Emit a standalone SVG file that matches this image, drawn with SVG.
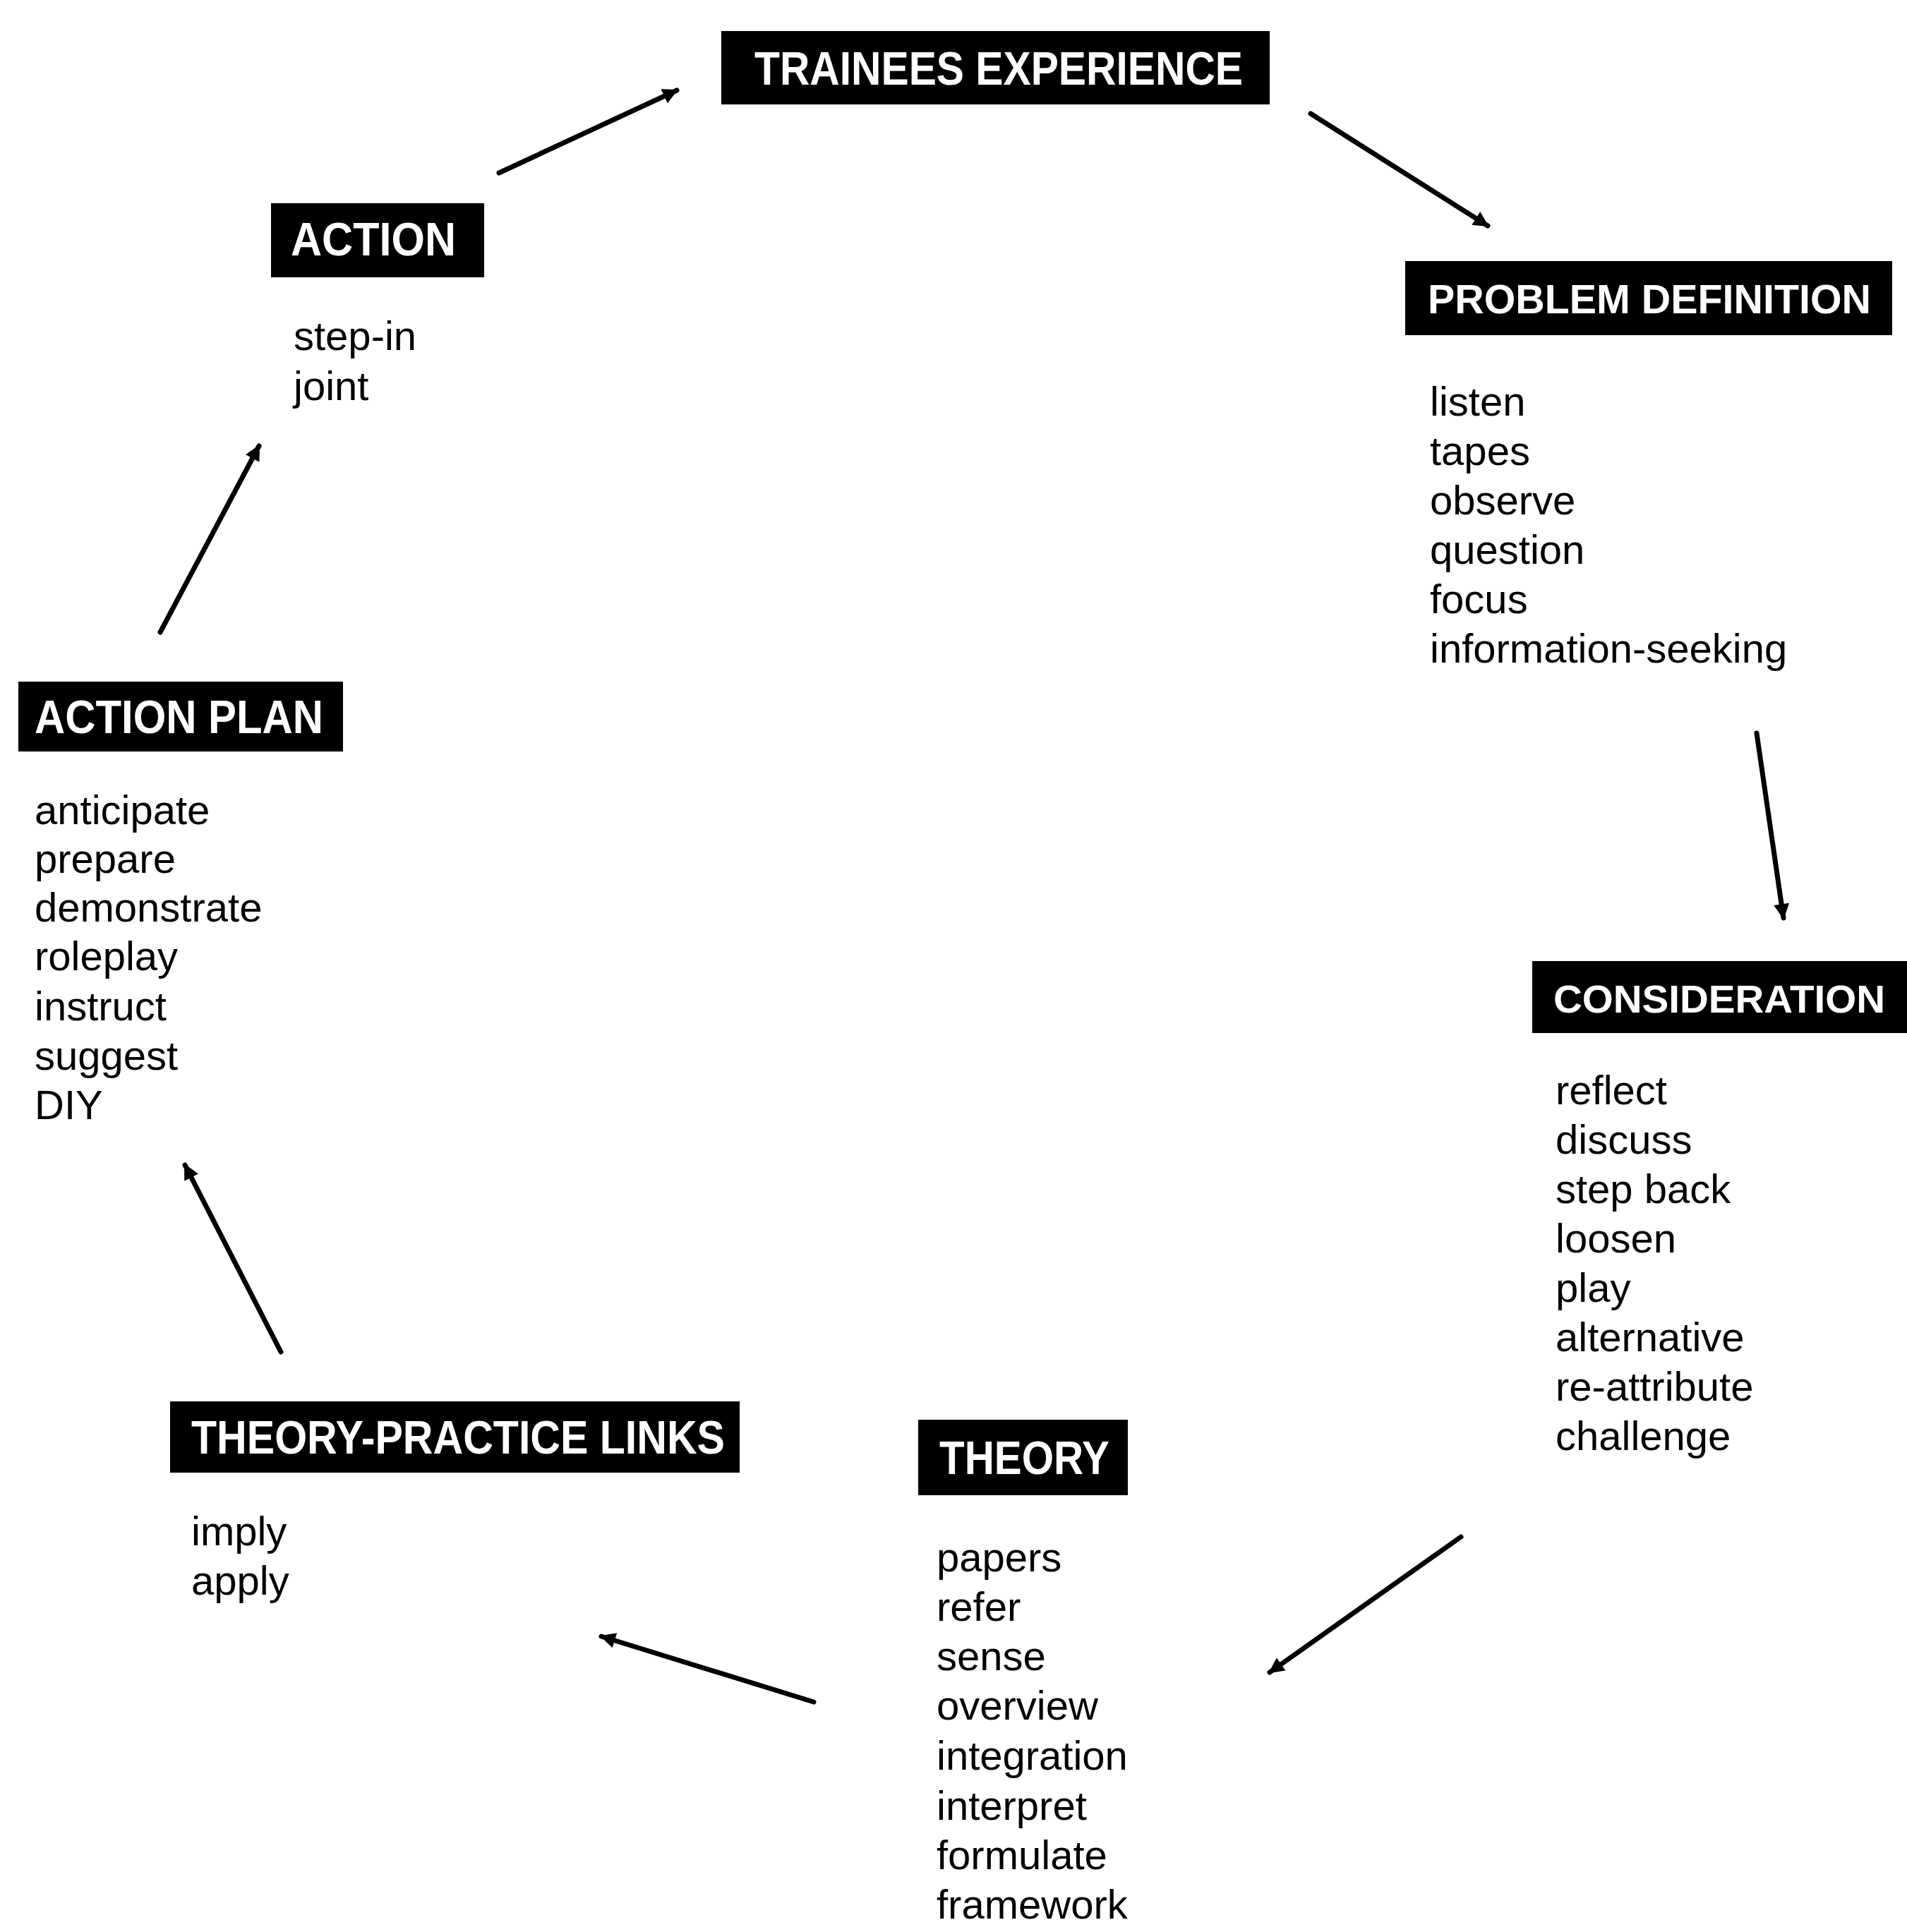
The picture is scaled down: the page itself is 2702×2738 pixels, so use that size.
<svg xmlns="http://www.w3.org/2000/svg" width="2702" height="2738" viewBox="0 0 2702 2738">
<style>
.box{fill:#000}
.hdr{fill:#fff;font-family:"Liberation Sans",Arial,sans-serif;font-weight:bold;font-size:66px}
.item{fill:#000;font-family:"Liberation Sans",Arial,sans-serif;font-size:58px}
.conn{stroke:#000;stroke-width:7;fill:none;stroke-linecap:round}
</style>
<defs>
<marker id="ah" viewBox="0 0 10 10" refX="9" refY="5" markerWidth="28" markerHeight="22" markerUnits="userSpaceOnUse" orient="auto">
<path d="M0,0 L10,5 L0,10 z" fill="#000"/>
</marker>
</defs>
<rect width="2702" height="2738" fill="#fff"/>
<g id="connectors">
<line class="conn" x1="1857" y1="161" x2="2108" y2="320" marker-end="url(#ah)"/>
<line class="conn" x1="2489" y1="1039" x2="2527" y2="1301" marker-end="url(#ah)"/>
<line class="conn" x1="2070" y1="2178" x2="1799" y2="2370" marker-end="url(#ah)"/>
<line class="conn" x1="1153" y1="2412" x2="852" y2="2319" marker-end="url(#ah)"/>
<line class="conn" x1="398" y1="1916" x2="262" y2="1651" marker-end="url(#ah)"/>
<line class="conn" x1="227" y1="896" x2="367" y2="632" marker-end="url(#ah)"/>
<line class="conn" x1="707" y1="245" x2="959" y2="128" marker-end="url(#ah)"/>
</g>
<g id="trainees-experience">
<rect class="box" x="1022" y="44" width="777" height="104"/>
<text class="hdr" x="1069" y="120" textLength="692" lengthAdjust="spacingAndGlyphs">TRAINEES EXPERIENCE</text>
</g>
<g id="problem-definition">
<rect class="box" x="1991" y="370" width="690" height="105"/>
<text class="hdr" x="2023" y="444" style="font-size:58px" textLength="628" lengthAdjust="spacingAndGlyphs">PROBLEM DEFINITION</text>
<text class="item" x="2026" y="589">listen</text>
<text class="item" x="2026" y="659">tapes</text>
<text class="item" x="2026" y="729">observe</text>
<text class="item" x="2026" y="799">question</text>
<text class="item" x="2026" y="869">focus</text>
<text class="item" x="2026" y="939">information-seeking</text>
</g>
<g id="consideration">
<rect class="box" x="2171" y="1362" width="531" height="102"/>
<text class="hdr" x="2201" y="1435" style="font-size:56px" textLength="470" lengthAdjust="spacingAndGlyphs">CONSIDERATION</text>
<text class="item" x="2204" y="1565">reflect</text>
<text class="item" x="2204" y="1635">discuss</text>
<text class="item" x="2204" y="1705">step back</text>
<text class="item" x="2204" y="1775">loosen</text>
<text class="item" x="2204" y="1845">play</text>
<text class="item" x="2204" y="1915">alternative</text>
<text class="item" x="2204" y="1985">re-attribute</text>
<text class="item" x="2204" y="2055">challenge</text>
</g>
<g id="theory">
<rect class="box" x="1301" y="2012" width="297" height="107"/>
<text class="hdr" x="1331" y="2089" textLength="241" lengthAdjust="spacingAndGlyphs">THEORY</text>
<text class="item" x="1327" y="2227">papers</text>
<text class="item" x="1327" y="2297">refer</text>
<text class="item" x="1327" y="2367">sense</text>
<text class="item" x="1327" y="2437">overview</text>
<text class="item" x="1327" y="2508">integration</text>
<text class="item" x="1327" y="2579">interpret</text>
<text class="item" x="1327" y="2649">formulate</text>
<text class="item" x="1327" y="2719">framework</text>
</g>
<g id="theory-practice-links">
<rect class="box" x="241" y="1986" width="807" height="101"/>
<text class="hdr" x="271" y="2060" textLength="756" lengthAdjust="spacingAndGlyphs">THEORY-PRACTICE LINKS</text>
<text class="item" x="271" y="2190">imply</text>
<text class="item" x="271" y="2260">apply</text>
</g>
<g id="action-plan">
<rect class="box" x="26" y="966" width="460" height="99"/>
<text class="hdr" x="49" y="1039" textLength="409" lengthAdjust="spacingAndGlyphs">ACTION PLAN</text>
<text class="item" x="49" y="1168">anticipate</text>
<text class="item" x="49" y="1237">prepare</text>
<text class="item" x="49" y="1306">demonstrate</text>
<text class="item" x="49" y="1375">roleplay</text>
<text class="item" x="49" y="1446">instruct</text>
<text class="item" x="49" y="1516">suggest</text>
<text class="item" x="49" y="1586">DIY</text>
</g>
<g id="action">
<rect class="box" x="384" y="288" width="302" height="105"/>
<text class="hdr" x="412" y="362" textLength="234" lengthAdjust="spacingAndGlyphs">ACTION</text>
<text class="item" x="416" y="496">step-in</text>
<text class="item" x="416" y="567">joint</text>
</g>
</svg>
